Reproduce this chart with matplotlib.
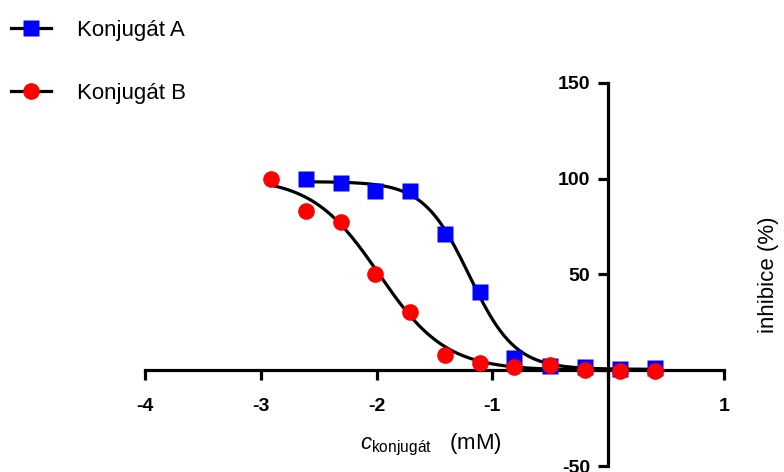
import numpy as np
import matplotlib
matplotlib.use("Agg")
import matplotlib.pyplot as plt
from matplotlib.lines import Line2D

plt.rcParams['font.family'] = ['Liberation Sans', 'DejaVu Sans']
plt.rcParams['mathtext.fontset'] = 'custom'
plt.rcParams['mathtext.rm'] = 'Liberation Sans'
plt.rcParams['mathtext.it'] = 'Liberation Sans:italic'

# log10 c (mM) and inhibition (%)
x_a = [-2.61, -2.31, -2.01, -1.71, -1.41, -1.11, -0.81, -0.50, -0.20, 0.10, 0.40]
y_a = [100.0, 97.9, 93.8, 93.8, 71.4, 41.1, 6.3, 2.0, 1.5, 0.5, 1.0]
x_b = [-2.91, -2.61, -2.31, -2.01, -1.71, -1.41, -1.11, -0.81, -0.50, -0.20, 0.10, 0.40]
y_b = [100.0, 83.3, 77.6, 50.0, 30.2, 7.8, 3.6, 1.6, 2.6, 0.0, -0.5, -0.5]

# fitted sigmoid parameters: top, bottom, logIC50, hill slope
fit_a = (98.5, 0.5, -1.20, 2.2)
fit_b = (100.5, 0.0, -1.98, 1.5)

labels = ['Konjugát A', 'Konjugát B']
x_ticks = [-4, -3, -2, -1, 0, 1]
y_ticks = [-50, 0, 50, 100, 150]


def sigmoid(x, p):
    top, bottom, x50, h = p
    return bottom + (top - bottom) / (1 + 10 ** (h * (x - x50)))


fig = plt.figure(figsize=(7.84, 4.72), dpi=100)
ax = fig.add_axes([0.185, 0.0127, 0.7385, 0.8115])

xa = np.linspace(min(x_a), max(x_a), 200)
xb = np.linspace(min(x_b), max(x_b), 200)
ax.plot(xa, sigmoid(xa, fit_a), color='black', lw=2.3, zorder=2)
ax.plot(xb, sigmoid(xb, fit_b), color='black', lw=2.3, zorder=2)
ax.plot(x_a, y_a, 's', color='#0000ff', ms=11, mec='none', zorder=3)
ax.plot(x_b, y_b, 'o', color='#ff0000', ms=12, mec='none', zorder=4)

ax.set_xlim(-4, 1)
ax.set_ylim(-50, 150)
for s in ['top', 'right']:
    ax.spines[s].set_visible(False)
ax.spines['left'].set_position(('data', 0))
ax.spines['bottom'].set_position(('data', 0))
for s in ['left', 'bottom']:
    ax.spines[s].set_linewidth(2.3)

ax.set_xticks(x_ticks)
ax.set_xticklabels(['' if t == 0 else str(t) for t in x_ticks])
ax.set_yticks(y_ticks)
ax.set_yticklabels(['' if t == 0 else str(t) for t in y_ticks])
ax.tick_params(width=2.3, length=7, labelsize=14)
ax.tick_params(axis='x', pad=13)
ax.tick_params(axis='y', pad=6)
for lab in ax.get_xticklabels() + ax.get_yticklabels():
    lab.set_fontweight('bold')

fig.text(0.55, 0.057, r'$c_{\mathrm{konjugát}}$   (mM)', fontsize=16,
         ha='center', va='center')
fig.text(0.98, 0.417, 'inhibice (%)', fontsize=16, rotation=90,
         ha='center', va='center')

handles = [Line2D([], [], color='black', lw=2.3, marker='s', mfc='#0000ff',
                  mec='none', ms=11),
           Line2D([], [], color='black', lw=2.3, marker='o', mfc='#ff0000',
                  mec='none', ms=12)]
fig.legend(handles, labels, loc='upper left', bbox_to_anchor=(-0.012, 1.0),
           frameon=False, fontsize=16, handlelength=1.8, handletextpad=1.2,
           labelspacing=1.9, borderaxespad=0.5)

fig.savefig('out.png', dpi=100)
